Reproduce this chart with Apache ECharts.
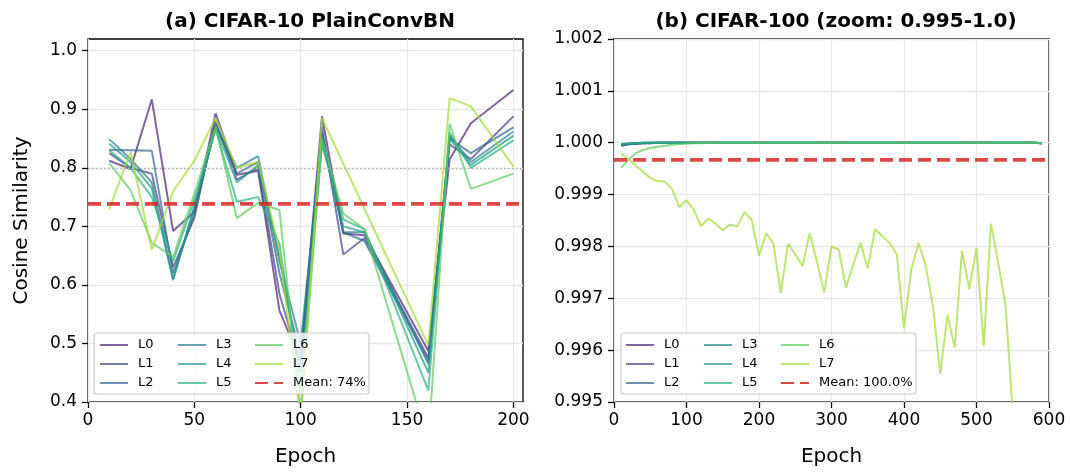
<!DOCTYPE html>
<html><head><meta charset="utf-8">
<script src="https://cdn.jsdelivr.net/npm/echarts@6/dist/echarts.min.js"></script>
<style>html,body{margin:0;padding:0;background:#fff}#c{width:1070px;height:472px}</style>
</head><body><div id="c"></div>
<script>
// ---------- data ----------
const layerNames = ['L0','L1','L2','L3','L4','L5','L6','L7'];
const titleA = '(a) CIFAR-10 PlainConvBN';
const titleB = '(b) CIFAR-100 (zoom: 0.995-1.0)';
const meanA = 0.7385, meanLabelA = 'Mean: 74%';
const meanB = 0.99967, meanLabelB = 'Mean: 100.0%';
const refA = 0.8;
const xTicksA = [0, 50, 100, 150, 200];
const yTicksA = [0.4, 0.5, 0.6, 0.7, 0.8, 0.9, 1.0];
const xTicksB = [0, 100, 200, 300, 400, 500, 600];
const yTicksB = [0.995, 0.996, 0.997, 0.998, 0.999, 1.000, 1.001, 1.002];

const epochsA = [10,20,30,40,50,60,70,80,90,100,110,120,130,140,150,160,170,180,190,200];
const L0A = [0.812,0.798,0.917,0.692,0.725,0.893,0.788,0.795,0.556,0.470,0.888,0.688,0.685,null,null,0.487,0.814,0.876,null,0.933];
const L1A = [0.825,0.800,0.790,0.630,0.715,0.880,0.780,0.800,0.585,0.460,0.870,0.652,0.680,null,null,0.475,0.840,0.815,null,0.888];
const L2A = [0.831,0.830,0.829,0.620,0.720,0.875,0.790,0.810,0.620,0.480,0.860,0.690,0.675,null,null,0.470,0.850,0.825,null,0.869];
const L3A = [0.849,0.815,0.775,0.610,0.730,0.870,0.800,0.820,0.640,0.500,0.855,0.690,0.690,null,null,0.465,0.855,0.810,null,0.862];
const L4A = [0.841,0.810,0.765,0.608,0.735,0.868,0.775,0.805,0.650,0.450,0.845,0.700,0.690,null,null,0.450,0.850,0.805,null,0.855];
const L5A = [0.830,0.800,0.750,0.640,0.745,0.865,0.742,0.750,0.670,0.420,0.840,0.712,0.695,null,null,0.420,0.860,0.800,null,0.847];
const L6A = [0.808,0.762,0.672,0.648,0.755,0.870,0.714,0.740,0.728,0.380,0.850,0.722,0.695,null,null,0.330,0.875,0.764,null,0.790];
const L7A = [0.730,0.827,0.660,0.760,0.812,0.885,0.800,0.810,0.660,0.370,0.885,null,null,null,null,0.497,0.919,0.905,null,0.802];

const epochsB = [10,20,30,40,50,60,70,80,90,100,
  110,120,130,140,150,160,170,180,190,200,
  210,220,230,240,250,260,270,280,290,300,
  310,320,330,340,350,360,370,380,390,400,
  410,420,430,440,450,460,470,480,490,500,
  510,520,530,540,550,560,570,580,590];
const L0B = [0.99994,0.99997,0.99998,0.99999,0.99999,1,1,1,1,1,
  1,1,1,1,1,1,1,1,1,1, 1,1,1,1,1,1,1,1,1,1, 1,1,1,1,1,1,1,1,1,1,
  1,1,1,1,1,1,1,1,1,1, 1,1,1,1,1,1,1,1,0.99999];
const L1B = [0.99995,0.99997,0.99998,0.99999,0.99999,1,1,1,1,1,
  1,1,1,1,1,1,1,1,1,1, 1,1,1,1,1,1,1,1,1,1, 1,1,1,1,1,1,1,1,1,1,
  1,1,1,1,1,1,1,1,1,1, 1,1,1,1,1,1,1,1,0.99999];
const L2B = [0.99996,0.99998,0.99999,0.99999,1,1,1,1,1,1,
  1,1,1,1,1,1,1,1,1,1, 1,1,1,1,1,1,1,1,1,1, 1,1,1,1,1,1,1,1,1,1,
  1,1,1,1,1,1,1,1,1,1, 1,1,1,1,1,1,1,1,0.99999];
const L3B = [0.99997,0.99998,0.99999,1,1,1,1,1,1,1,
  1,1,1,1,1,1,1,1,1,1, 1,1,1,1,1,1,1,1,1,1, 1,1,1,1,1,1,1,1,1,1,
  1,1,1,1,1,1,1,1,1,1, 1,1,1,1,1,1,1,1,0.99999];
const L4B = [0.99997,0.99998,0.99999,1,1,1,1,1,1,1,
  1,1,1,1,1,1,1,1,1,1, 1,1,1,1,1,1,1,1,1,1, 1,1,1,1,1,1,1,1,1,1,
  1,1,1,1,1,1,1,1,1,1, 1,1,1,1,1,1,1,1,0.99999];
const L5B = [0.99998,0.99999,0.99999,1,1,1,1,1,1,1,
  1,1,1,1,1,1,1,1,1,1, 1,1,1,1,1,1,1,1,1,1, 1,1,1,1,1,1,1,1,1,1,
  1,1,1,1,1,1,1,1,1,1, 1,1,1,1,1,1,1,1,0.99999];
const L6B = [0.99952,0.99967,0.99980,0.99986,0.99990,0.99992,0.99994,0.99996,0.99997,0.99998,
  0.99999,0.99999,1,1,1,1,1,1,1,1, 1,1,1,1,1,1,1,1,1,1, 1,1,1,1,1,1,1,1,1,1,
  1,1,1,1,1,1,1,1,1,1, 1,1,1,1,1,1,1,1,0.99999];
const L7B = [0.99979,0.99968,0.99956,0.99944,0.99932,0.99926,0.99925,0.99911,0.99876,0.99889,
  0.99871,0.99839,0.99854,0.99844,0.99831,0.99842,0.99839,0.99866,0.99851,0.99782,
  0.99826,0.99805,0.99710,0.99805,0.99785,0.99762,0.99826,0.99770,0.99711,0.99800,
  0.99794,0.99720,0.99765,0.99807,0.99758,0.99833,0.99820,0.99807,0.99785,0.99642,
  0.99755,0.99807,0.99762,0.99684,0.99554,0.99668,0.99605,0.99792,0.99718,0.99797,
  0.99608,0.99844,0.99768,0.99687,0.99480,0.99350,0.99410,0.99300,0.99380];

const valuesA = [L0A,L1A,L2A,L3A,L4A,L5A,L6A,L7A];
const valuesB = [L0B,L1B,L2B,L3B,L4B,L5B,L6B,L7B];

// ---------- styling ----------
const FONT = 'DejaVu Sans';
const colors = ['rgba(72,36,117,0.7)','rgba(64,70,136,0.7)','rgba(51,99,141,0.7)','rgba(40,125,142,0.7)',
                'rgba(32,152,139,0.7)','rgba(41,175,127,0.7)','rgba(94,201,98,0.7)','rgba(162,218,55,0.7)'];
const meanColor = 'rgba(214,39,40,0.85)';
const xMaxA = 204.5, xMaxB = 600;

function pairs(xs, ys){ return xs.map((x,i)=>[x, ys[i]==null ? '-' : ys[i]]); }

const series = [];
valuesA.forEach((v,i)=>{
  const s = {name: layerNames[i], type:'line', xAxisIndex:0, yAxisIndex:0, data: pairs(epochsA, v),
    connectNulls:true, symbol:'none', showSymbol:false, lineStyle:{width:2, color:colors[i]}, itemStyle:{color:colors[i]},
    emphasis:{disabled:true}, silent:true, z:2};
  if(i===0){
    s.markLine = {silent:true, symbol:'none', label:{show:false}, animation:false,
      lineStyle:{color:'#b0b0b0', type:[1.5,2.5], width:1.3}, data:[{yAxis: refA}]};
  }
  series.push(s);
});
series.push({name: meanLabelA, type:'line', xAxisIndex:0, yAxisIndex:0, data:[[0,meanA],[xMaxA,meanA]],
  symbol:'none', lineStyle:{width:3.8, color:meanColor, type:[13,6]}, itemStyle:{color:meanColor}, emphasis:{disabled:true}, silent:true, z:3});
valuesB.forEach((v,i)=>{
  series.push({name: layerNames[i], type:'line', xAxisIndex:1, yAxisIndex:1, data: pairs(epochsB, v),
    symbol:'none', showSymbol:false, lineStyle:{width:2, color:colors[i]}, itemStyle:{color:colors[i]},
    emphasis:{disabled:true}, silent:true, z:2});
});
series.push({name: meanLabelB, type:'line', xAxisIndex:1, yAxisIndex:1, data:[[0,meanB],[xMaxB,meanB]],
  symbol:'none', lineStyle:{width:3.8, color:meanColor, type:[13,6]}, itemStyle:{color:meanColor}, emphasis:{disabled:true}, silent:true, z:3});

const tickLabel = {fontFamily:FONT, fontSize:17, color:'#000'};
const splitLine = {show:true, lineStyle:{color:'#e8e8e8', width:1.3}};
const axisTick = {show:true, length:6, lineStyle:{color:'#000', width:1.3}};

function legendCol(names, left, top){
  return {data:names, orient:'vertical', left:left, top:top, padding:0, itemGap:5, z:10,
    itemWidth:28, itemHeight:14, selectedMode:false,
    itemStyle:{opacity:0},
    textStyle:{fontFamily:FONT, fontSize:13, color:'#000', lineHeight:14, padding:[0,0,0,5]}};
}

const option = {
  animation:false,
  backgroundColor:'#fff',
  title:[
    {text:titleA, left:305, top:7, textAlign:'center', textStyle:{fontFamily:FONT, fontSize:20, fontWeight:'bold', color:'#000'}},
    {text:titleB, left:831, top:7, textAlign:'center', textStyle:{fontFamily:FONT, fontSize:20, fontWeight:'bold', color:'#000'}}
  ],
  grid:[
    {left:88, top:39, width:435, height:363, show:true, borderColor:'#000', borderWidth:1.3, backgroundColor:'transparent'},
    {left:614, top:39, width:435, height:363, show:true, borderColor:'#000', borderWidth:1.3, backgroundColor:'transparent'}
  ],
  xAxis:[
    {type:'value', gridIndex:0, min:0, max:xMaxA, interval:50, name:'Epoch', nameLocation:'middle', nameGap:45,
      nameTextStyle:{fontFamily:FONT, fontSize:20, color:'#000'},
      axisLine:{show:false}, axisTick:Object.assign({customValues:xTicksA}, axisTick),
      axisLabel:Object.assign({customValues:xTicksA, margin:10}, tickLabel), splitLine:splitLine},
    {type:'value', gridIndex:1, min:0, max:xMaxB, interval:100, name:'Epoch', nameLocation:'middle', nameGap:45,
      nameTextStyle:{fontFamily:FONT, fontSize:20, color:'#000'},
      axisLine:{show:false}, axisTick:Object.assign({customValues:xTicksB}, axisTick),
      axisLabel:Object.assign({customValues:xTicksB, margin:10}, tickLabel), splitLine:splitLine}
  ],
  yAxis:[
    {type:'value', gridIndex:0, min:0.4, max:1.02, interval:0.1, name:'Cosine Similarity', nameLocation:'middle', nameGap:56,
      nameTextStyle:{fontFamily:FONT, fontSize:20, color:'#000'},
      axisLine:{show:false}, axisTick:Object.assign({customValues:yTicksA}, axisTick),
      axisLabel:Object.assign({customValues:yTicksA, margin:11, formatter:v=>Number(v).toFixed(1)}, tickLabel), splitLine:splitLine},
    {type:'value', gridIndex:1, min:0.995, max:1.002, interval:0.001,
      axisLine:{show:false}, axisTick:Object.assign({customValues:yTicksB}, axisTick),
      axisLabel:Object.assign({customValues:yTicksB, margin:11, formatter:v=>Number(v).toFixed(3)}, tickLabel), splitLine:splitLine}
  ],
  legend:[
    legendCol(['L0','L1','L2'], 99, 338),
    legendCol(['L3','L4','L5'], 177, 338),
    legendCol(['L6','L7',meanLabelA], 254, 338),
    legendCol(['L0','L1','L2'], 625, 338),
    legendCol(['L3','L4','L5'], 703, 338),
    legendCol(['L6','L7',meanLabelB], 780, 338)
  ],
  graphic:[
    {type:'rect', z:5, shape:{x:94, y:333, width:275, height:61, r:3},
      style:{fill:'rgba(255,255,255,0.8)', stroke:'#cccccc', lineWidth:1.2}, silent:true},
    {type:'rect', z:5, shape:{x:621, y:333, width:295, height:61, r:3},
      style:{fill:'rgba(255,255,255,0.8)', stroke:'#cccccc', lineWidth:1.2}, silent:true}
  ],
  series: series
};
const chart = echarts.init(document.getElementById('c'));
chart.setOption(option);
</script>
</body></html>
